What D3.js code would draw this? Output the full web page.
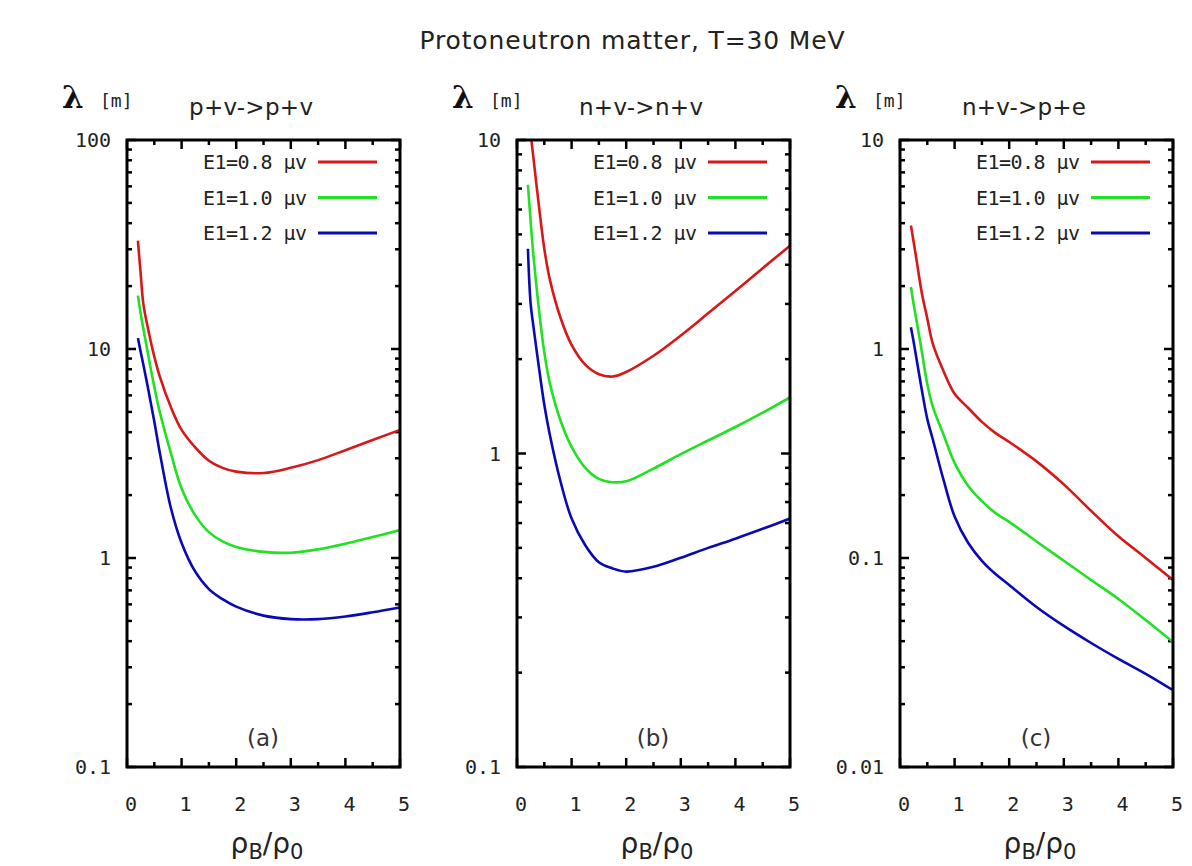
<!DOCTYPE html>
<html>
<head>
<meta charset="utf-8">
<script src="https://cdn.jsdelivr.net/npm/d3@7"></script>
<style>
  body { margin: 0; background: #fff; }
  svg { display: block; }
  .mono { font-family: "DejaVu Sans Mono", "Liberation Mono", monospace; }
  .sans { font-family: "DejaVu Sans", sans-serif; }
</style>
</head>
<body>
<div id="chart"></div>
<script>
// density grid (rho_B / rho_0), shared by all curves
const rho = [0.2, 0.25, 0.3, 0.4, 0.5, 0.6, 0.8, 1.0, 1.25, 1.5, 1.75, 2.0, 2.5, 3.0, 3.5, 4.0, 4.5, 5.0];

const seriesNames = ["E1=0.8 \u03bcv", "E1=1.0 \u03bcv", "E1=1.2 \u03bcv"];
const seriesColors = ["#d81818", "#22e022", "#0a0ab4"];

// (a) p+v->p+v, mean free path in m
const pvRed   = [33, 23, 16.4, 12.0, 9.2, 7.4, 5.3, 4.1, 3.38, 2.92, 2.7, 2.59, 2.55, 2.7, 2.94, 3.28, 3.67, 4.1];
const pvGreen = [18, 14.8, 12.5, 9.0, 6.6, 5.0, 3.2, 2.15, 1.6, 1.33, 1.2, 1.13, 1.07, 1.06, 1.1, 1.17, 1.26, 1.36];
const pvBlue  = [11.3, 9.7, 8.4, 6.2, 4.5, 3.2, 1.75, 1.18, 0.86, 0.71, 0.635, 0.585, 0.53, 0.51, 0.51, 0.525, 0.55, 0.58];

// (b) n+v->n+v
const nvRed   = [12.5, 10.5, 8.8, 6.2, 4.5, 3.6, 2.7, 2.22, 1.92, 1.79, 1.76, 1.82, 2.05, 2.38, 2.8, 3.3, 3.9, 4.6];
const nvGreen = [7.2, 5.5, 4.3, 2.9, 2.1, 1.68, 1.27, 1.05, 0.9, 0.83, 0.81, 0.815, 0.895, 0.995, 1.1, 1.215, 1.35, 1.51];
const nvBlue  = [4.5, 3.0, 2.55, 1.89, 1.43, 1.15, 0.81, 0.62, 0.51, 0.45, 0.43, 0.42, 0.435, 0.465, 0.5, 0.535, 0.575, 0.62];

// (c) n+v->p+e
const peRed   = [3.9, 3.25, 2.7, 1.85, 1.4, 1.06, 0.78, 0.61, 0.522, 0.448, 0.396, 0.359, 0.29, 0.225, 0.168, 0.127, 0.1, 0.0785];
const peGreen = [1.98, 1.64, 1.38, 0.97, 0.68, 0.53, 0.388, 0.285, 0.221, 0.187, 0.164, 0.149, 0.12, 0.097, 0.0785, 0.0637, 0.0505, 0.0396];
const peBlue  = [1.27, 1.08, 0.905, 0.637, 0.462, 0.37, 0.235, 0.158, 0.118, 0.097, 0.0838, 0.0743, 0.0583, 0.0473, 0.0392, 0.0329, 0.0279, 0.0233];

const xTicks = [0, 1, 2, 3, 4, 5];

const panels = [
  {title: "p+v->p+v", label: "(a)", left: 127, yDomain: [0.1, 100], series: [pvRed, pvGreen, pvBlue]},
  {title: "n+v->n+v", label: "(b)", left: 517, yDomain: [0.1, 10], series: [nvRed, nvGreen, nvBlue]},
  {title: "n+v->p+e", label: "(c)", left: 900, yDomain: [0.01, 10], series: [peRed, peGreen, peBlue]}
];

const W = 1192, H = 866;
const pw = 273, plotTop = 140, plotBottom = 767;

const svg = d3.select("#chart").append("svg")
    .attr("width", W)
    .attr("height", H);

svg.append("text")
    .attr("class", "sans")
    .attr("x", 632).attr("y", 49)
    .attr("text-anchor", "middle")
    .attr("font-size", 25)
    .attr("textLength", 425)
    .attr("fill", "#222")
    .text("Protoneutron matter, T=30 MeV");

panels.forEach((p, pi) => {
  const x = d3.scaleLinear().domain([0, 5]).range([p.left, p.left + pw]);
  const y = d3.scaleLog().domain(p.yDomain).range([plotBottom, plotTop]);
  const g = svg.append("g");

  // clip region for curves
  const clipId = "clip" + pi;
  svg.append("clipPath").attr("id", clipId)
    .append("rect")
    .attr("x", p.left).attr("y", plotTop)
    .attr("width", pw).attr("height", plotBottom - plotTop);

  // y ticks (log, major + minor) on both sides
  y.ticks().forEach(v => {
    const major = Math.abs(Math.log10(v) - Math.round(Math.log10(v))) < 1e-9;
    const len = major ? 9 : 5;
    const yy = y(v);
    g.append("line").attr("x1", p.left).attr("x2", p.left + len)
      .attr("y1", yy).attr("y2", yy).attr("stroke", "#000").attr("stroke-width", 2.5);
    g.append("line").attr("x1", p.left + pw).attr("x2", p.left + pw - len)
      .attr("y1", yy).attr("y2", yy).attr("stroke", "#000").attr("stroke-width", 2.5);
    if (major) {
      g.append("text").attr("class", "mono")
        .attr("x", p.left - 16).attr("y", yy + 7)
        .attr("text-anchor", "end")
        .attr("font-size", 20)
        .attr("fill", "#222")
        .text(String(+v.toPrecision(1)));
    }
  });

  // x ticks: integers major, halves minor, top and bottom
  d3.range(0, 5.01, 0.5).forEach(v => {
    const major = Math.abs(v - Math.round(v)) < 1e-9;
    const len = major ? 9 : 5;
    const xx = x(v);
    g.append("line").attr("x1", xx).attr("x2", xx)
      .attr("y1", plotBottom).attr("y2", plotBottom - len).attr("stroke", "#000").attr("stroke-width", 2.5);
    g.append("line").attr("x1", xx).attr("x2", xx)
      .attr("y1", plotTop).attr("y2", plotTop + len).attr("stroke", "#000").attr("stroke-width", 2.5);
  });
  xTicks.forEach(v => {
    g.append("text").attr("class", "mono")
      .attr("x", x(v) + 4).attr("y", 811)
      .attr("text-anchor", "middle")
      .attr("font-size", 20)
      .attr("fill", "#222")
      .text(v);
  });

  // curves
  const line = d3.line()
    .x((d, i) => x(rho[i]))
    .y(d => y(d))
    .curve(d3.curveCatmullRom.alpha(0.5));

  p.series.forEach((s, si) => {
    g.append("path")
      .datum(s)
      .attr("clip-path", `url(#${clipId})`)
      .attr("fill", "none")
      .attr("stroke", seriesColors[si])
      .attr("stroke-width", 2.6)
      .attr("d", line);
  });

  // frame
  g.append("rect")
    .attr("x", p.left).attr("y", plotTop)
    .attr("width", pw).attr("height", plotBottom - plotTop)
    .attr("fill", "none").attr("stroke", "#000").attr("stroke-width", 3);

  // legend
  seriesNames.forEach((name, si) => {
    const ly = 162 + si * 35.5;
    const lx1 = p.left + pw - 82, lx2 = p.left + pw - 23;
    g.append("text").attr("class", "mono")
      .attr("x", lx1 - 11).attr("y", ly + 7)
      .attr("text-anchor", "end")
      .attr("font-size", 20)
      .attr("textLength", 104)
      .attr("fill", "#222")
      .text(name);
    g.append("line")
      .attr("x1", lx1).attr("x2", lx2)
      .attr("y1", ly).attr("y2", ly)
      .attr("stroke", seriesColors[si]).attr("stroke-width", 3);
  });

  // panel title
  g.append("text").attr("class", "sans")
    .attr("x", p.left + 62).attr("y", 115)
    .attr("font-size", 23)
    .attr("textLength", 124)
    .attr("fill", "#222")
    .text(p.title);

  // lambda [m]
  g.append("text")
    .attr("x", p.left - 65).attr("y", 108)
    .attr("font-family", "DejaVu Serif, serif")
    .attr("font-weight", "bold")
    .attr("font-size", 31)
    .attr("fill", "#111")
    .text("\u03bb");
  g.append("text").attr("class", "mono")
    .attr("x", p.left - 27).attr("y", 107)
    .attr("font-size", 18)
    .attr("fill", "#222")
    .text("[m]");

  // panel label
  g.append("text").attr("class", "sans")
    .attr("x", p.left + 136).attr("y", 746)
    .attr("text-anchor", "middle")
    .attr("font-size", 23)
    .attr("fill", "#333")
    .text(p.label);

  // x axis label rho_B / rho_0
  const xl = g.append("text").attr("class", "sans")
    .attr("x", p.left + 140).attr("y", 853)
    .attr("text-anchor", "middle")
    .attr("font-size", 28)
    .attr("fill", "#222");
  xl.append("tspan").text("\u03c1");
  xl.append("tspan").attr("font-size", 21).attr("dy", 6).text("B");
  xl.append("tspan").attr("dy", -6).text("/\u03c1");
  xl.append("tspan").attr("font-size", 21).attr("dy", 6).text("0");
});
</script>
</body>
</html>
